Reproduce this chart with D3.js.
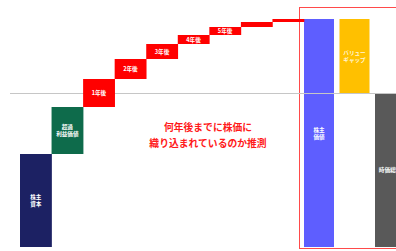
<!DOCTYPE html>
<html><head><meta charset="utf-8">
<script src="https://cdn.jsdelivr.net/npm/d3@7"></script>
<style>html,body{margin:0;padding:0;background:#fff;}svg{display:block;}</style>
</head><body>
<svg id="c" width="396" height="251"></svg>
<script>
// waterfall (left) categories and values
const stepCats = ["株主資本", "超過利益価値", "1年後", "2年後", "3年後", "4年後", "5年後", "6年後", "7年後"];
const stepLabels = [["株主", "資本"], ["超過", "利益価値"], ["1年後"], ["2年後"], ["3年後"], ["4年後"], ["5年後"], [], []];
const stepValues = [93, 47, 28, 20, 15, 9, 8, 5, 3];
// right group
const valCats = ["株主価値", "バリューギャップ", "時価総額"];
const valLabels = [["株主", "価値"], ["バリュー", "ギャップ"], ["時価総額"]];
const marketValue = 154;
const annotation = ["何年後までに株価に", "織り込まれているのか推測"];

const stepColors = ["#1c2163", "#0e6b4b", "#ff0000", "#ff0000", "#ff0000", "#ff0000", "#ff0000", "#ff0000", "#ff0000"];
const valColors = ["#5e5eff", "#ffc000", "#595959"];
const FONT = "'Noto Sans CJK JP', 'Noto Sans', sans-serif";

const svg = d3.select("#c");
const total = d3.sum(stepValues);
const y = d3.scaleLinear().domain([0, total]).range([247, 19]);
const xL = d3.scaleBand().domain(stepCats).range([20, 304]).paddingInner(0).paddingOuter(0);
const xR = d3.scaleBand().domain(valCats).range([301.25, 407.75]).paddingInner(0.155).paddingOuter(0.0775);

// cumulative
let acc = 0;
const steps = stepCats.map((c, i) => { const s = acc; acc += stepValues[i]; return {c, i, s, e: acc}; });
const vals = [
  {c: valCats[0], s: 0, e: total},
  {c: valCats[1], s: marketValue, e: total},
  {c: valCats[2], s: 0, e: marketValue}
];

// red frame
svg.append("rect").attr("x", 299.5).attr("y", 7.5).attr("width", 110).attr("height", 241)
  .attr("fill", "none").attr("stroke", "#ff4a4a").attr("stroke-width", 1);

// right bars
svg.selectAll("rect.v").data(vals).join("rect").attr("class", "v")
  .attr("x", d => xR(d.c)).attr("width", xR.bandwidth())
  .attr("y", d => y(d.e)).attr("height", d => y(d.s) - y(d.e))
  .attr("fill", (d, i) => valColors[i]);

// market value line
svg.append("line").attr("x1", 10).attr("x2", 396)
  .attr("y1", Math.round(y(marketValue)) + 0.5).attr("y2", Math.round(y(marketValue)) + 0.5)
  .attr("stroke", "#c6c6c6").attr("stroke-width", 1);

// step bars
svg.selectAll("rect.s").data(steps).join("rect").attr("class", "s")
  .attr("x", d => xL(d.c)).attr("width", xL.bandwidth() + 0.3)
  .attr("y", d => y(d.e)).attr("height", d => y(d.s) - y(d.e))
  .attr("fill", d => stepColors[d.i]);

function labels(sel, data, xs, lab, fill) {
  data.forEach((d, i) => {
    const lines = lab[i];
    if (!lines.length) return;
    const cx = xs(d.c) + xs.bandwidth() / 2;
    const cy = (y(d.s) + y(d.e)) / 2;
    const lh = 7;
    const t = sel.append("text").attr("text-anchor", "middle")
      .attr("font-family", FONT).attr("font-size", 5.6).attr("font-weight", "bold")
      .attr("fill", fill[i] || "#fff");
    lines.forEach((l, j) => {
      t.append("tspan").attr("x", cx)
        .attr("y", cy + (j - (lines.length - 1) / 2) * lh + 2).text(l);
    });
  });
}
labels(svg, steps, xL, stepLabels, []);
labels(svg, vals, xR, valLabels, ["#fff", "#fff6d8", "#fff"]);

// annotation
const at = svg.append("text").attr("text-anchor", "middle")
  .attr("font-family", FONT).attr("font-size", 9.8).attr("font-weight", "bold").attr("fill", "#ff1a1a");
annotation.forEach((l, j) => at.append("tspan").attr("x", 208).attr("y", 131 + j * 16).text(l));
</script>
</body></html>
